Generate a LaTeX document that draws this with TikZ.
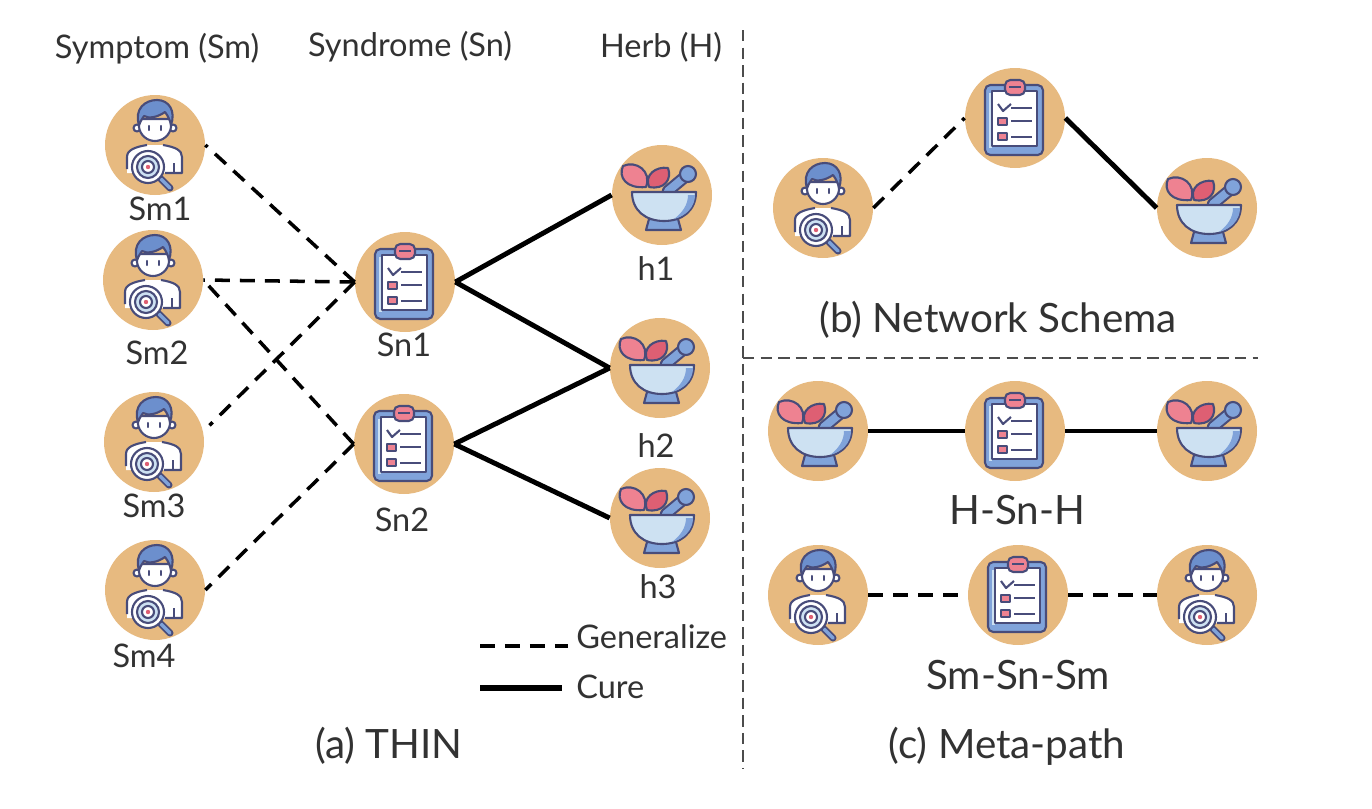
\documentclass[tikz,border=0pt]{standalone}
\usepackage{fontspec}
\setmainfont{Lato}
\definecolor{discbg}{RGB}{231,186,128}
\definecolor{inkline}{RGB}{72,76,122}
\definecolor{hairblue}{RGB}{108,143,205}
\definecolor{paleblue}{RGB}{205,225,242}
\definecolor{midblue}{RGB}{128,163,218}
\definecolor{leafpink}{RGB}{238,130,145}
\definecolor{leafred}{RGB}{222,95,115}
\definecolor{textgray}{RGB}{50,50,50}
\tikzset{
	disc/.style={circle,fill=discbg,draw=none,minimum size=100*0.02cm,inner sep=0pt},
	ink/.style={draw=inkline,line width=1.2pt,line join=round},
	generalize/.style={line width=2pt,dash pattern=on 8.5pt off 5.7pt},
	cure/.style={line width=2.8pt},
	divider/.style={draw=black!70,line width=1.2pt,dash pattern=on 6.5pt off 3.5pt},
	lbl/.style={text=textgray,font=\fontsize{18.5}{20}\selectfont,inner sep=0pt},
	caption/.style={text=textgray,font=\fontsize{23}{25}\selectfont,inner sep=0pt},
	person/.pic={
		\fill[white] (-28,28) -- (-28,12) .. controls (-28,5) and (-20,2) .. (-8,0) -- (8,0) .. controls (20,2) and (27,5) .. (27,12) -- (27,28) -- cycle;
		\draw[ink] (-28,24) -- (-28,12) .. controls (-28,5) and (-20,2) .. (-8,0);
		\draw[ink] (8,0) .. controls (20,2) and (27,5) .. (27,12) -- (27,28) -- (10,28);
		\draw[ink] (19,28) -- (19,18);
		\draw[ink,fill=white] (-18,-17) circle [radius=3.5];
		\draw[ink,fill=white] (18,-17) circle [radius=3.5];
		\draw[ink,fill=white] (-16,-26) -- (-16,-18) .. controls (-15,-10) and (-8,-4) .. (0,-4) .. controls (8,-4) and (15,-10) .. (16,-18) -- (16,-26) -- cycle;
		\draw[ink,fill=hairblue] (-16,-20) .. controls (-21,-36) and (-10,-45) .. (2,-45) .. controls (14,-45) and (21,-34) .. (16,-20) .. controls (15,-25) and (13,-29) .. (10,-33) .. controls (3,-28) and (-6,-26) .. (-11,-29) .. controls (-13,-26) and (-15,-23) .. (-16,-20) -- cycle;
		\draw[inkline,line width=1.2pt,line cap=round] (-6,-19) -- (-6,-15) (6,-19) -- (6,-15);
		\draw[inkline,line width=4pt,line cap=round] (6,34) -- (15,43);
		\draw[midblue,line width=2pt,line cap=round] (6,34) -- (15,43);
		\draw[ink,fill=white] (-7,22) circle [radius=16];
		\draw[ink,fill=paleblue] (-7,22) circle [radius=11];
		\draw[ink,fill=white] (-7,22) circle [radius=6];
		\fill[leafred] (-7,22) circle [radius=2.2];
	},
	chart/.pic={
		\draw[ink,fill=midblue,rounded corners=3pt] (-30,-33) rectangle (28,37);
		\fill[paleblue] (-26,-25) rectangle (-23,30);
		\draw[ink,fill=white] (-23,-27) rectangle (22,28);
		\draw[ink,fill=leafpink,rounded corners=3pt] (-10,-38) rectangle (10,-23);
		\draw[ink] (-6,-31) -- (6,-31);
		\draw[ink] (-17,-14) -- (-12,-7) -- (-4,-14);
		\draw[ink] (-4,-10) -- (17,-10);
		\draw[ink,fill=leafpink] (-17,0) rectangle (-8,7);
		\draw[ink] (-4,3) -- (17,3);
		\draw[ink,fill=leafpink] (-17,15) rectangle (-8,22);
		\draw[ink] (-4,19) -- (17,19);
	},
	bowl/.pic={
		\draw[inkline,line width=7pt,line cap=round] (6,-4) -- (24,-19);
		\draw[midblue,line width=4.6pt,line cap=round] (6,-4) -- (24,-19);
		\draw[ink,fill=midblue] (26,-21) circle [radius=8];
		\draw[ink,fill=leafpink] (-16,-8) .. controls (-36,-6) and (-44,-18) .. (-39,-29) .. controls (-26,-35) and (-10,-24) .. (-16,-8) -- cycle;
		\draw[ink,fill=leafred] (-13,-8) .. controls (-18,-20) and (-6,-29) .. (6,-27) .. controls (10,-16) and (3,-5) .. (-13,-8) -- cycle;
		\draw[ink,fill=midblue] (-13,24) -- (16,24) -- (19,35) -- (-16,35) -- cycle;
		\draw[ink,fill=paleblue] (-30,-3) -- (34,-3) .. controls (34,16) and (20,26) .. (2,26) .. controls (-16,26) and (-30,16) .. (-30,-3) -- cycle;
		\fill[midblue] (26,0) -- (33,0) .. controls (33,12) and (24,21) .. (12,24) .. controls (20,18) and (26,10) .. (26,0) -- cycle;
	}
}
\begin{document}
\begin{tikzpicture}[x=0.02cm,y=-0.02cm]
\useasboundingbox (0,0) rectangle (1372,808);
	% dividers
	\coordinate (vtop) at (743,30);
	\coordinate (vbot) at (743,768);
	\coordinate (hleft) at (743,358);
	\coordinate (hright) at (1258,358);
	\draw[divider] (vtop) -- (vbot);
	\draw[divider] (hleft) -- (hright);
	% (a) THIN
	\node[disc] (sm1) at (155,145) {};
	\node[disc] (sm2) at (153,280) {};
	\node[disc] (sm3) at (154,442) {};
	\node[disc] (sm4) at (155,590) {};
	\node[disc] (sn1) at (405,282) {};
	\node[disc] (sn2) at (404,444) {};
	\node[disc] (h1) at (662,195) {};
	\node[disc] (h2) at (660,368) {};
	\node[disc] (h3) at (660,518) {};
	\foreach \n in {sm1,sm2,sm3,sm4} \pic at (\n) {person};
	\foreach \n in {sn1,sn2} \pic at (\n) {chart};
	\foreach \n in {h1,h2,h3} \pic at (\n) {bowl};
	\draw[generalize] (sn1.west) -- (sm1.east);
	\draw[generalize] (sn1.west) -- (sm2.east);
	\draw[generalize,shorten >=5pt] (sn1.west) -- (sm3.12);
	\draw[generalize] (sn2.west) -- (sm2.east);
	\draw[generalize] (sn2.west) -- (sm4.east);
	\draw[cure] (sn1.east) -- (h1.west);
	\draw[cure] (sn1.east) -- (h2.west);
	\draw[cure] (sn2.east) -- (h2.west);
	\draw[cure] (sn2.east) -- (h3.west);
	\node[lbl] (tsm) at (157,49) {Symptom (Sm)};
	\node[lbl] (tsn) at (410,47) {Syndrome (Sn)};
	\node[lbl] (th) at (661,47) {Herb (H)};
	\node[lbl] (lsm1) at (160,209) {Sm1};
	\node[lbl] (lsm2) at (157,353) {Sm2};
	\node[lbl] (lsm3) at (154,506) {Sm3};
	\node[lbl] (lsm4) at (144,656) {Sm4};
	\node[lbl] (lsn1) at (404,345) {Sn1};
	\node[lbl] (lsn2) at (402,520) {Sn2};
	\node[lbl] (lh1) at (656,269) {h1};
	\node[lbl] (lh2) at (656,446) {h2};
	\node[lbl] (lh3) at (658,587) {h3};
	% legend
	\node[lbl,anchor=west] (lgen) at (576,637) {Generalize};
	\node[lbl,anchor=west] (lcure) at (576,687) {Cure};
	\coordinate (kgen) at (480,646);
	\coordinate (kgenend) at (568,646);
	\coordinate (kcure) at (480,688);
	\coordinate (kcureend) at (562,688);
	\draw[generalize] (kgen) -- (kgenend);
	\draw[cure,line width=3.4pt] (kcure) -- (kcureend);
	\node[caption] (capa) at (389,746) {(a) THIN};
	% (b) Network Schema
	\node[disc] (bsm) at (823,208) {};
	\node[disc] (bsn) at (1015,118) {};
	\node[disc] (bh) at (1207,208) {};
	\pic at (bsm) {person};
	\pic at (bsn) {chart};
	\pic at (bh) {bowl};
	\draw[generalize] (bsm.east) -- (bsn.west);
	\draw[cure] (bsn.east) -- (bh.west);
	\node[caption] (capb) at (998,320) {(b) Network Schema};
	% (c) Meta-path
	\node[disc] (ch1) at (818,431) {};
	\node[disc] (csn1) at (1015,431) {};
	\node[disc] (ch2) at (1207,431) {};
	\node[disc] (csm1) at (818,595) {};
	\node[disc] (csn2) at (1018,595) {};
	\node[disc] (csm2) at (1207,595) {};
	\foreach \n in {ch1,ch2} \pic at (\n) {bowl};
	\foreach \n in {csn1,csn2} \pic at (\n) {chart};
	\foreach \n in {csm1,csm2} \pic at (\n) {person};
	\draw[cure] (ch1) -- (csn1);
	\draw[cure] (csn1) -- (ch2);
	\draw[generalize] (csm1) -- (csn2);
	\draw[generalize] (csn2) -- (csm2);
	\node[caption] (lhsh) at (1017,510) {H-Sn-H};
	\node[caption] (lsss) at (1018,675) {Sm-Sn-Sm};
	\node[caption] (capc) at (1007,746) {(c) Meta-path};
\end{tikzpicture}
\end{document}
